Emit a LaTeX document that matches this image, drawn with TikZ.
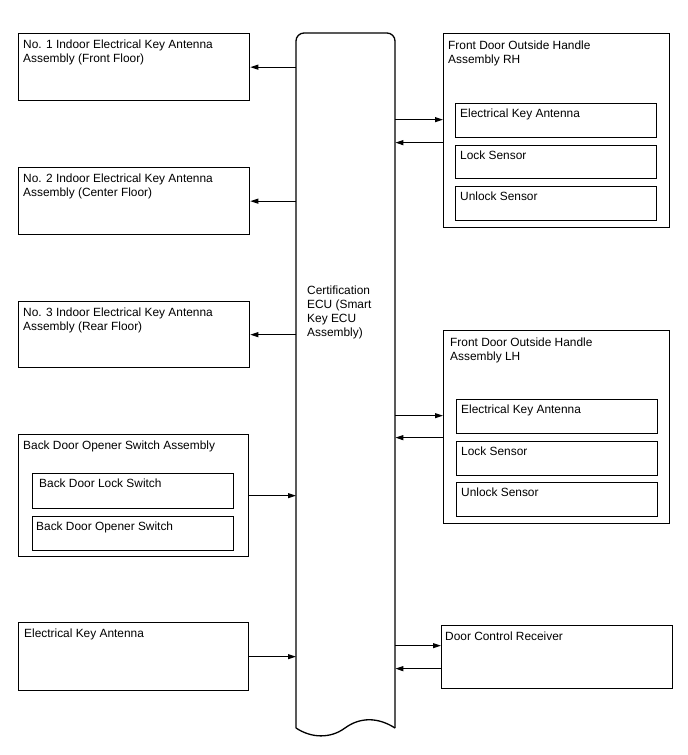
\documentclass[tikz,border=0pt]{standalone}
\usepackage{fontspec}
\setmainfont{Liberation Sans}
\usetikzlibrary{calc,arrows.meta}
\begin{document}
\begin{tikzpicture}[x=1pt,y=-1pt,
  box/.style={draw,line width=1.3pt,inner sep=0pt,anchor=north west},
  txt/.style={inner sep=0pt,anchor=north west,align=left,font=\fontsize{11.9}{14}\selectfont},
  arr/.style={line width=1.05pt,-{Triangle[length=8pt,width=5pt]}}]
\useasboundingbox (0,0) rectangle (688,755);
% central ECU
\node[inner sep=0pt,minimum width=99pt,minimum height=695pt,anchor=north west] (ecu) at (296,33) {};
\draw[line width=1.3pt,rounded corners=8pt] (296,728) -- (296,33) -- (395,33) -- (395,728);
\draw[line width=1.3pt] (395,728) .. controls (378,717) and (360,717) .. (345,728)
  .. controls (330,739) and (311,738) .. (296,728);
\node[txt] (ecut) at (307,286) {Certification\\ECU (Smart\\Key ECU\\Assembly)};
% left boxes
\node[box,minimum width=231pt,minimum height=67pt] (b1) at (18,33) {};
\node[txt] (b1t) at ($(b1.north west)+(5,7)$) {No. 1 Indoor Electrical Key Antenna\\Assembly (Front Floor)};
\node[box,minimum width=231pt,minimum height=67pt] (b2) at (18,167) {};
\node[txt] (b2t) at ($(b2.north west)+(5,7)$) {No. 2 Indoor Electrical Key Antenna\\Assembly (Center Floor)};
\node[box,minimum width=231pt,minimum height=66pt] (b3) at (18,301) {};
\node[txt] (b3t) at ($(b3.north west)+(5,7)$) {No. 3 Indoor Electrical Key Antenna\\Assembly (Rear Floor)};
\node[box,minimum width=230pt,minimum height=122pt] (b4) at (18,434) {};
\node[txt] (b4t) at ($(b4.north west)+(5,7)$) {Back Door Opener Switch Assembly};
\node[box,minimum width=201pt,minimum height=35pt] (b4a) at (32,473) {};
\node[txt] (b4at) at ($(b4a.north west)+(7,6)$) {Back Door Lock Switch};
\node[box,minimum width=201pt,minimum height=34pt] (b4b) at (32,516) {};
\node[txt] (b4bt) at ($(b4b.north west)+(4,6)$) {Back Door Opener Switch};
\node[box,minimum width=230pt,minimum height=68pt] (b5) at (18,622) {};
\node[txt] (b5t) at ($(b5.north west)+(6,7)$) {Electrical Key Antenna};
% right boxes
\node[box,minimum width=226pt,minimum height=194pt] (rh) at (443,33) {};
\node[txt] (rht) at ($(rh.north west)+(5,8)$) {Front Door Outside Handle\\Assembly RH};
\node[box,minimum width=201pt,minimum height=34pt] (rh1) at (455,103) {};
\node[txt] (rh1t) at ($(rh1.north west)+(5,6)$) {Electrical Key Antenna};
\node[box,minimum width=201pt,minimum height=33pt] (rh2) at (455,145) {};
\node[txt] (rh2t) at ($(rh2.north west)+(5,6)$) {Lock Sensor};
\node[box,minimum width=201pt,minimum height=34pt] (rh3) at (455,186) {};
\node[txt] (rh3t) at ($(rh3.north west)+(5,6)$) {Unlock Sensor};
\node[box,minimum width=226pt,minimum height=193pt] (lh) at (443,330) {};
\node[txt] (lht) at ($(lh.north west)+(7,8)$) {Front Door Outside Handle\\Assembly LH};
\node[box,minimum width=201pt,minimum height=34pt] (lh1) at (456,399) {};
\node[txt] (lh1t) at ($(lh1.north west)+(5,6)$) {Electrical Key Antenna};
\node[box,minimum width=201pt,minimum height=34pt] (lh2) at (456,441) {};
\node[txt] (lh2t) at ($(lh2.north west)+(5,6)$) {Lock Sensor};
\node[box,minimum width=201pt,minimum height=34pt] (lh3) at (456,482) {};
\node[txt] (lh3t) at ($(lh3.north west)+(5,6)$) {Unlock Sensor};
\node[box,minimum width=231pt,minimum height=63pt] (dcr) at (441,625) {};
\node[txt] (dcrt) at ($(dcr.north west)+(4,7)$) {Door Control Receiver};
% connectors
\draw[arr] (ecu.west |- b1.east) -- (b1.east);
\draw[arr] (ecu.west |- b2.east) -- (b2.east);
\draw[arr] (ecu.west |- b3.east) -- (b3.east);
\draw[arr] (b4.east) -- (ecu.west |- b4.east);
\draw[arr] (b5.east) -- (ecu.west |- b5.east);
\coordinate (rhin) at ($(rh.west)+(0,-11)$);
\coordinate (rhout) at ($(rh.west)+(0,12)$);
\draw[arr] (ecu.east |- rhin) -- (rhin);
\draw[arr] (rhout) -- (ecu.east |- rhout);
\coordinate (lhin) at ($(lh.west)+(0,-11.5)$);
\coordinate (lhout) at ($(lh.west)+(0,10.5)$);
\draw[arr] (ecu.east |- lhin) -- (lhin);
\draw[arr] (lhout) -- (ecu.east |- lhout);
\coordinate (dcrin) at ($(dcr.west)+(0,-11.5)$);
\coordinate (dcrout) at ($(dcr.west)+(0,11.5)$);
\draw[arr] (ecu.east |- dcrin) -- (dcrin);
\draw[arr] (dcrout) -- (ecu.east |- dcrout);
\end{tikzpicture}
\end{document}
